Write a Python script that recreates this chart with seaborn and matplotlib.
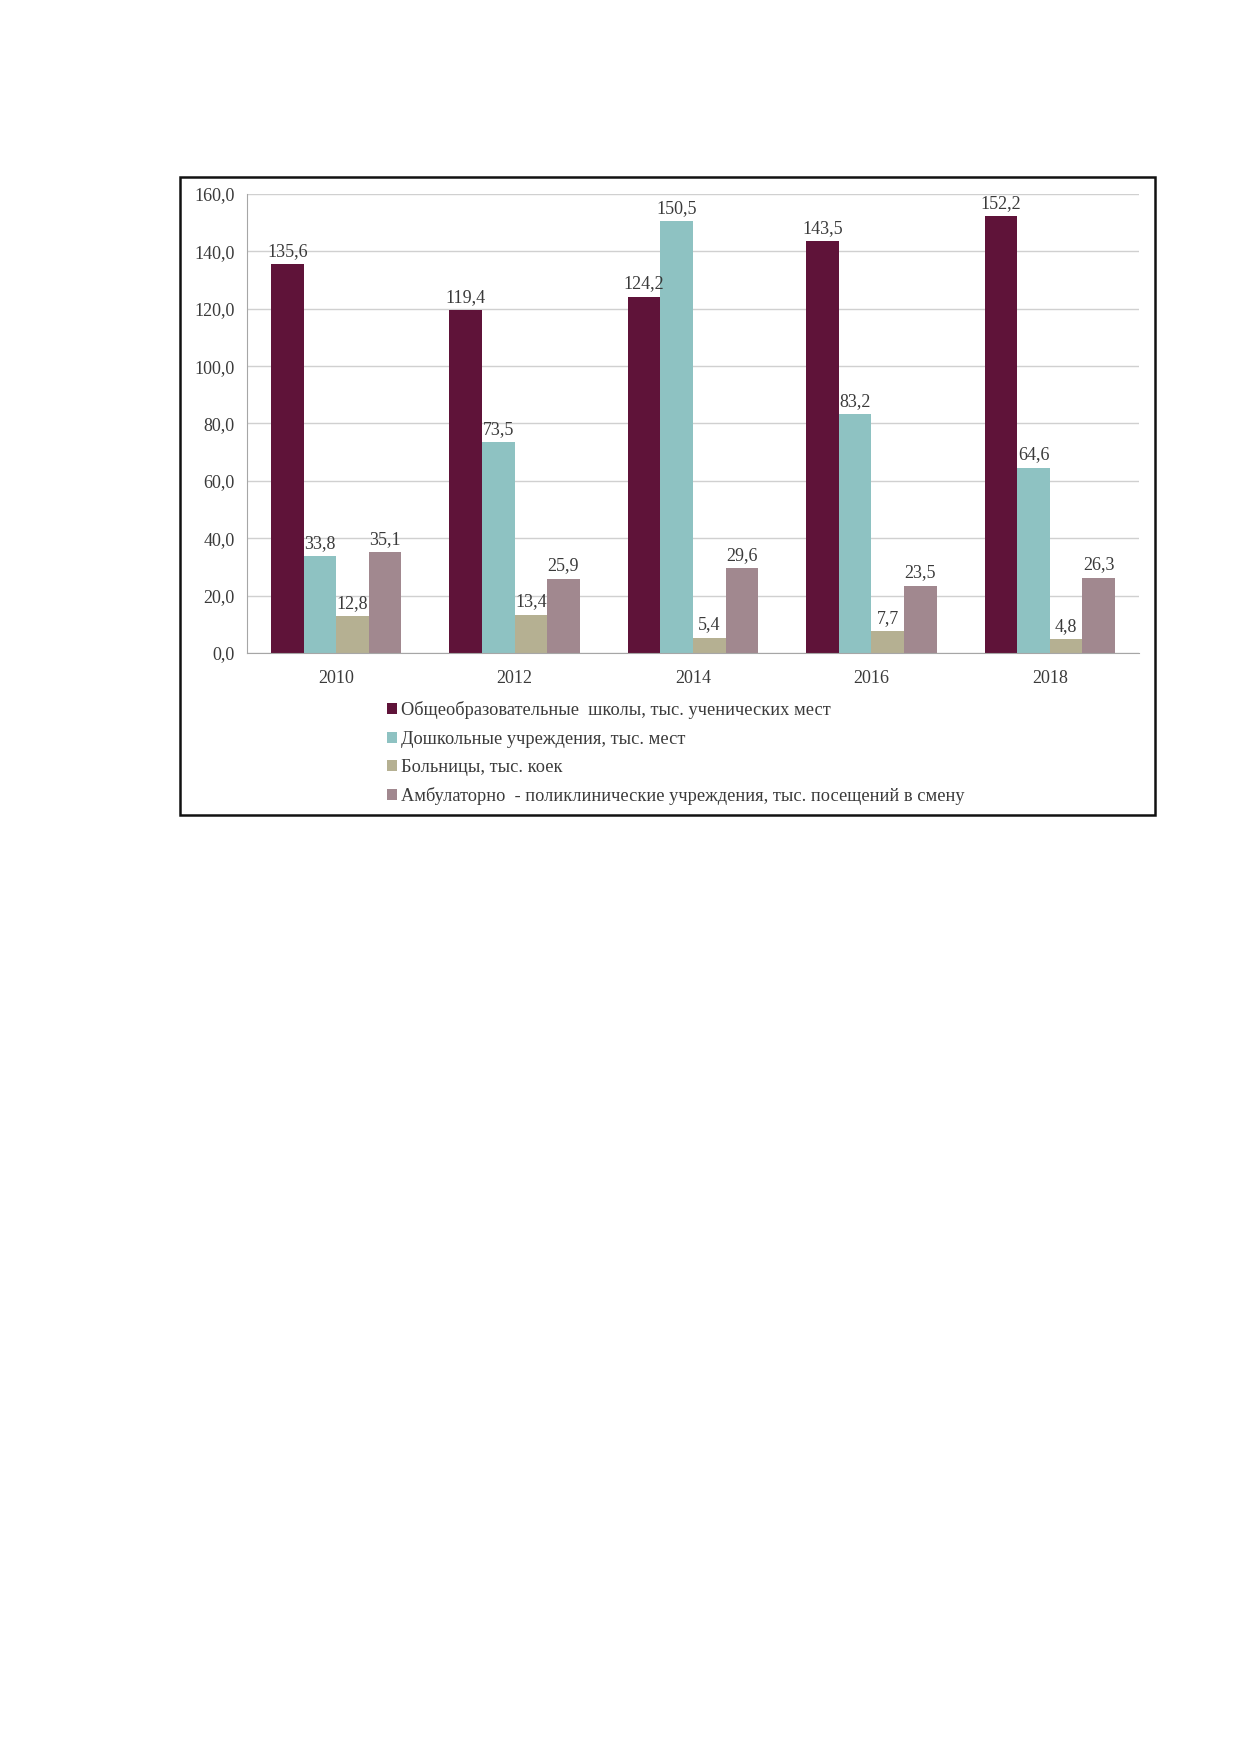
import pandas as pd
import numpy as np
import matplotlib
matplotlib.use("Agg")
import matplotlib.pyplot as plt
from matplotlib.patches import Rectangle, Patch
from matplotlib.ticker import FuncFormatter, FixedLocator
import seaborn as sns

years = ["2010", "2012", "2014", "2016", "2018"]
series = [
    "Общеобразовательные  школы, тыс. ученических мест",
    "Дошкольные учреждения, тыс. мест",
    "Больницы, тыс. коек",
    "Амбулаторно  - поликлинические учреждения, тыс. посещений в смену",
]
schools = [135.6, 119.4, 124.2, 143.5, 152.2]
preschool = [33.8, 73.5, 150.5, 83.2, 64.6]
hospitals = [12.8, 13.4, 5.4, 7.7, 4.8]
clinics = [35.1, 25.9, 29.6, 23.5, 26.3]
colors = ["#5F1339", "#8EC2C2", "#B5B092", "#A1888F"]

rows = []
for name, vals in zip(series, [schools, preschool, hospitals, clinics]):
    for y, v in zip(years, vals):
        rows.append({"year": y, "series": name, "value": v})
df = pd.DataFrame(rows)

sns.set_style("white")
plt.rcParams["font.family"] = ["Liberation Serif", "DejaVu Serif"]
txt = "#3A3A3A"

fig = plt.figure(figsize=(12.39, 17.52), dpi=100)
ax = fig.add_axes([247 / 1239, 1 - 653 / 1752, (1139 - 247) / 1239, (653 - 194) / 1752])

sns.barplot(data=df, x="year", y="value", hue="series", hue_order=series,
            palette=colors, width=0.73, gap=0, saturation=1, ax=ax,
            legend=False, errorbar=None, linewidth=0)

for cont in ax.containers:
    ax.bar_label(cont, labels=[f"{b.get_height():.1f}".replace(".", ",") for b in cont],
                 padding=3, fontsize=13, color=txt)

ax.set_ylim(0, 160)
ax.set_xlim(-0.5, 4.5)
ax.set_yticks(np.arange(0, 161, 20))
ax.yaxis.set_major_formatter(FuncFormatter(lambda v, p: f"{v:.1f}".replace(".", ",")))
ax.grid(axis="y", color="#D0D0D0", lw=1)
ax.set_axisbelow(True)
ax.set_xlabel("")
ax.set_ylabel("")
for s in ["top", "right"]:
    ax.spines[s].set_visible(False)
for s in ["left", "bottom"]:
    ax.spines[s].set_color("#A6A6A6")
ax.tick_params(axis="y", length=5, color="#A6A6A6", labelsize=13, labelcolor=txt, pad=4)
ax.tick_params(axis="x", which="major", length=0, labelsize=13, labelcolor=txt, pad=12)
ax.xaxis.set_minor_locator(FixedLocator(np.arange(-0.5, 4.6, 1)))
ax.tick_params(axis="x", which="minor", length=6, color="#A6A6A6")

handles = [Patch(facecolor=c, edgecolor="none") for c in colors]
fig.legend(handles, series, loc="upper left", bbox_to_anchor=(380 / 1239, 1 - 694 / 1752),
           frameon=False, fontsize=13.2, handlelength=0.55, handleheight=0.55,
           handletextpad=0.2, labelspacing=0.62, labelcolor=txt, borderaxespad=0)

fig.patches.append(Rectangle((180 / 1239, 1 - 815 / 1752), (1155 - 180) / 1239, (815 - 177) / 1752,
                             transform=fig.transFigure, fill=False, edgecolor="#111111", lw=1.8))

fig.savefig("out.png", dpi=100, facecolor="white")
